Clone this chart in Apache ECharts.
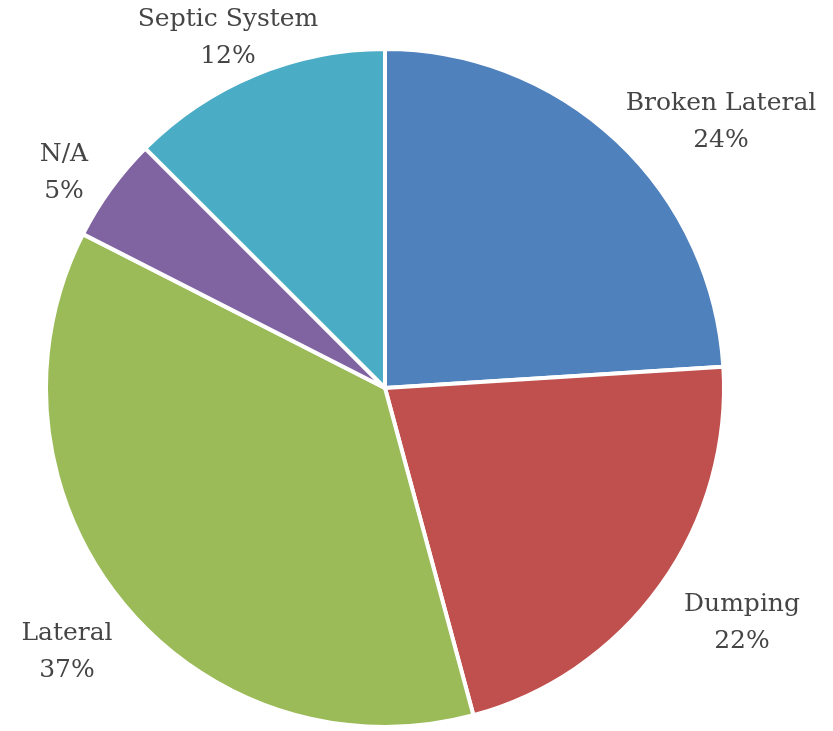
<!DOCTYPE html>
<html><head><meta charset="utf-8">
<script src="https://cdn.jsdelivr.net/npm/echarts@6/dist/echarts.min.js"></script>
<style>html,body{margin:0;padding:0;background:#fff}#c{width:833px;height:731px}</style>
</head><body><div id="c"></div>
<script>
const categories = ['Broken Lateral', 'Dumping', 'Lateral', 'N/A', 'Septic System'];
const values = [24.0, 21.8, 36.7, 5.0, 12.5];
const pctLabels = ['24%', '22%', '37%', '5%', '12%'];
const colors = ['#4F81BD', '#C0504D', '#9BBB59', '#8064A2', '#4BACC6'];
// label centre positions (layout only)
const labelPos = [[721, 122], [742, 623], [67, 652], [64, 173], [228, 38]];

const chart = echarts.init(document.getElementById('c'));
chart.setOption({
  animation: false,
  series: [{
    type: 'pie',
    center: [385, 388],
    radius: [0, 339],
    startAngle: 90,
    clockwise: true,
    data: categories.map((n, i) => ({ name: n, value: values[i], itemStyle: { color: colors[i] } })),
    itemStyle: { borderColor: '#fff', borderWidth: 4 },
    label: {
      show: true,
      position: 'outside',
      formatter: p => p.name + '\n' + pctLabels[p.dataIndex],
      fontFamily: 'DejaVu Serif',
      fontSize: 25,
      lineHeight: 37,
      color: '#454545',
      align: 'center',
      overflow: 'none',
      width: 300
    },
    labelLine: { show: false },
    labelLayout: function (p) {
      const pos = labelPos[p.dataIndex];
      return { x: pos[0], y: pos[1], align: 'center', verticalAlign: 'middle' };
    }
  }]
});
</script></body></html>
